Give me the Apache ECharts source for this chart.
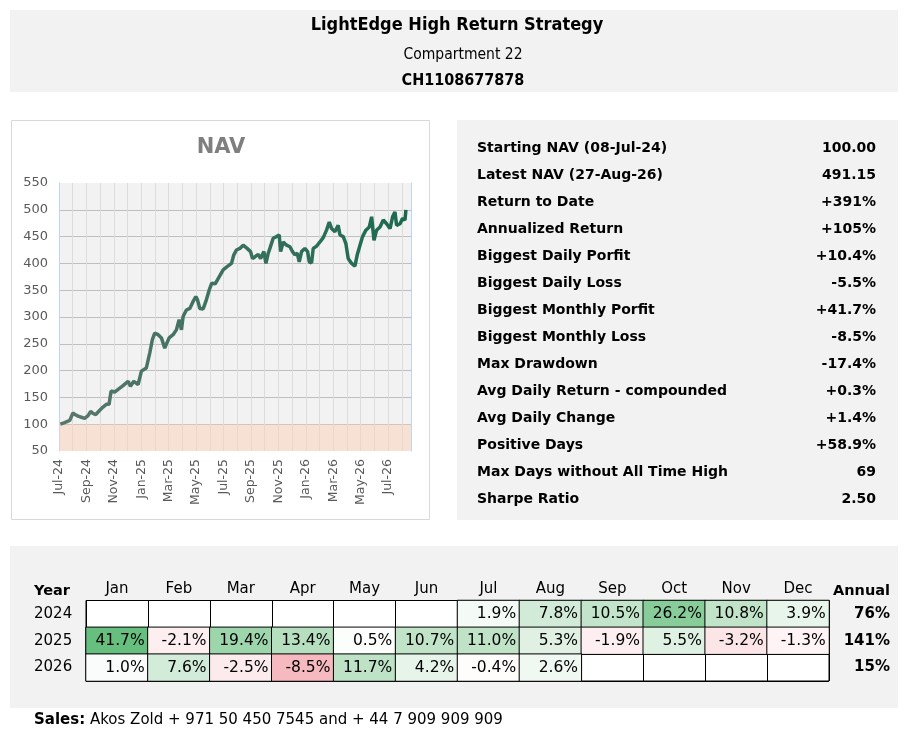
<!DOCTYPE html>
<html>
<head>
<meta charset="utf-8">
<title>LightEdge High Return Strategy</title>
<script src="https://cdn.jsdelivr.net/npm/echarts@6/dist/echarts.min.js"></script>
<style>
  html, body { margin: 0; padding: 0; background: #fff; }
  #main { width: 912px; height: 749px; }
</style>
</head>
<body>
<div id="main"></div>
<script>
// NAV curve (x = months since Jul-24)
var navMonthPos = [
  0.1, 0.41, 0.78, 1.02, 1.17, 1.39, 1.63, 1.87, 2.12, 2.31,
  2.48, 2.68, 2.97, 3.21, 3.45, 3.65, 3.80, 4.06, 4.31, 4.67,
  5.04, 5.21, 5.45, 5.77, 6.01, 6.37, 6.62, 6.81, 6.98, 7.23,
  7.47, 7.71, 7.83, 8.03, 8.32, 8.56, 8.76, 8.93, 9.05, 9.29,
  9.54, 9.78, 9.98, 10.10, 10.27, 10.51, 10.71, 10.95, 11.14, 11.39,
  11.68, 11.97, 12.26, 12.58, 12.75, 12.94, 13.19, 13.43, 13.72, 13.97,
  14.11, 14.28, 14.53, 14.70, 14.94, 15.09, 15.26, 15.38, 15.62, 15.86,
  16.06, 16.16, 16.35, 16.59, 16.84, 17.03, 17.20, 17.37, 17.52, 17.69,
  17.93, 18.13, 18.25, 18.42, 18.54, 18.78, 19.03, 19.27, 19.51, 19.71,
  19.88, 20.12, 20.36, 20.49, 20.73, 20.92, 21.09, 21.34, 21.58, 21.75,
  21.95, 22.14, 22.38, 22.63, 22.80, 22.97, 23.16, 23.41, 23.65, 23.89,
  24.14, 24.33, 24.50, 24.62, 24.87, 25.06, 25.23, 25.30
];
var navValues = [
  100, 103, 107, 121, 118, 115, 113, 111, 116, 124,
  120, 118, 126, 132, 137, 137, 162, 160, 165, 172,
  180, 171, 180, 174, 199, 205, 233, 258, 270, 267,
  261, 242, 240, 261, 267, 276, 295, 276, 301, 313,
  316, 329, 338, 332, 316, 315, 329, 350, 363, 362,
  375, 388, 394, 400, 416, 425, 428, 434, 428, 422,
  409, 412, 417, 409, 422, 400, 419, 428, 447, 450,
  453, 422, 440, 434, 431, 422, 416, 419, 403, 422,
  428, 422, 403, 401, 428, 432, 440, 448, 462, 477,
  465, 459, 471, 453, 450, 437, 409, 400, 395, 416,
  434, 450, 462, 468, 487, 443, 462, 468, 481, 474,
  465, 487, 496, 471, 474, 484, 481, 500
];
var navMonthLabels = [
  'Jul-24', 'Aug-24', 'Sep-24', 'Oct-24', 'Nov-24', 'Dec-24',
  'Jan-25', 'Feb-25', 'Mar-25', 'Apr-25', 'May-25', 'Jun-25',
  'Jul-25', 'Aug-25', 'Sep-25', 'Oct-25', 'Nov-25', 'Dec-25',
  'Jan-26', 'Feb-26', 'Mar-26', 'Apr-26', 'May-26', 'Jun-26',
  'Jul-26', 'Aug-26'
];

// key figures panel
var statLabels = [
  'Starting NAV (08-Jul-24)', 'Latest NAV (27-Aug-26)', 'Return to Date',
  'Annualized Return', 'Biggest Daily Porfit', 'Biggest Daily Loss',
  'Biggest Monthly Porfit', 'Biggest Monthly Loss', 'Max Drawdown',
  'Avg Daily Return - compounded', 'Avg Daily Change', 'Positive Days',
  'Max Days without All Time High', 'Sharpe Ratio'
];
var statValues = [
  '100.00', '491.15', '+391%', '+105%', '+10.4%', '-5.5%', '+41.7%',
  '-8.5%', '-17.4%', '+0.3%', '+1.4%', '+58.9%', '69', '2.50'
];

// monthly returns table
var months = ['Jan', 'Feb', 'Mar', 'Apr', 'May', 'Jun', 'Jul', 'Aug', 'Sep', 'Oct', 'Nov', 'Dec'];
var years = ['2024', '2025', '2026'];
var returns2024 = [null, null, null, null, null, null, 1.9, 7.8, 10.5, 26.2, 10.8, 3.9];
var returns2025 = [41.7, -2.1, 19.4, 13.4, 0.5, 10.7, 11.0, 5.3, -1.9, 5.5, -3.2, -1.3];
var returns2026 = [1.0, 7.6, -2.5, -8.5, 11.7, 4.2, -0.4, 2.6, null, null, null, null];
var annualReturns = [76, 141, 15];

var navData = navMonthPos.map(function (m, i) { return [m, navValues[i]]; });

var heatData = [];
[returns2024, returns2025, returns2026].forEach(function (row, y) {
  row.forEach(function (v, m) {
    if (v !== null) heatData.push([m, y, v]);
  });
});

var wide = '"DejaVu Sans", Lato, sans-serif';
var narrow = '"DejaVu Sans Condensed", "Liberation Sans Narrow", sans-serif';

var elements = [
  // header band
  { type: 'rect', z: -10, shape: { x: 10, y: 10, width: 888, height: 82 }, style: { fill: '#f2f2f2' } },
  { type: 'text', x: 457, y: 25, style: { text: 'LightEdge High Return Strategy', font: 'bold 18px ' + narrow, fill: '#000', align: 'center', verticalAlign: 'middle' } },
  { type: 'text', x: 463, y: 55, style: { text: 'Compartment 22', font: '15.5px ' + narrow, fill: '#000', align: 'center', verticalAlign: 'middle' } },
  { type: 'text', x: 463, y: 81, style: { text: 'CH1108677878', font: 'bold 16px ' + narrow, fill: '#000', align: 'center', verticalAlign: 'middle' } },
  // chart frame
  { type: 'rect', z: -10, shape: { x: 11.5, y: 120.5, width: 418, height: 399 }, style: { fill: '#fff', stroke: '#d9d9d9', lineWidth: 1 } },
  { type: 'text', x: 221, y: 148, style: { text: 'NAV', font: 'bold 21px ' + wide, fill: '#7f7f7f', align: 'center', verticalAlign: 'middle' } },
  // stats panel
  { type: 'rect', z: -10, shape: { x: 457, y: 120, width: 441, height: 400 }, style: { fill: '#f2f2f2' } },
  // table panel
  { type: 'rect', z: -10, shape: { x: 10, y: 546, width: 888, height: 162 }, style: { fill: '#f2f2f2' } },
  { type: 'text', x: 34, y: 591, style: { text: 'Year', font: 'bold 14.5px ' + wide, fill: '#000', verticalAlign: 'middle' } },
  { type: 'text', x: 890, y: 591, style: { text: 'Annual', font: 'bold 14.5px ' + wide, fill: '#000', align: 'right', verticalAlign: 'middle' } },
  // sales line
  {
    type: 'text', x: 34, y: 720,
    style: {
      text: '{b|Sales:} Akos Zold + 971 50 450 7545 and + 44 7 909 909 909',
      font: '15px ' + wide, fill: '#000', verticalAlign: 'middle',
      rich: { b: { fontWeight: 'bold', fontSize: 15, fontFamily: wide } }
    }
  }
];

statLabels.forEach(function (lab, i) {
  var y = 148 + i * 27;
  elements.push({ type: 'text', x: 477, y: y, style: { text: lab, font: 'bold 14px ' + wide, fill: '#000', verticalAlign: 'middle' } });
  elements.push({ type: 'text', x: 876, y: y, style: { text: statValues[i], font: 'bold 14px ' + wide, fill: '#000', align: 'right', verticalAlign: 'middle' } });
});

var option = {
  animation: false,
  backgroundColor: '#fff',
  textStyle: { fontFamily: wide },
  graphic: { elements: elements },
  grid: [
    { left: 59, top: 183, width: 352, height: 268, show: true, backgroundColor: '#f2f2f2', borderWidth: 0 },
    { left: 86, top: 600.5, width: 743, height: 80.5, show: true, backgroundColor: '#fff', borderColor: '#000', borderWidth: 1 }
  ],
  xAxis: [
    {
      type: 'value', gridIndex: 0, min: 0, max: 25.67, interval: 1,
      axisLine: { show: false }, axisTick: { show: false },
      splitLine: { show: true, lineStyle: { color: '#dcdcdc', width: 1 } },
      axisLabel: {
        rotate: 90, fontSize: 12.5, color: '#595959', margin: 8,
        formatter: function (v) {
          if (v % 2 !== 0) return '';
          return navMonthLabels[v] || '';
        }
      }
    },
    {
      type: 'category', gridIndex: 1, data: months, position: 'top',
      axisLine: { show: false }, axisTick: { show: false },
      splitLine: { show: true, lineStyle: { color: '#000', width: 1 } },
      axisLabel: { fontSize: 15, color: '#000', margin: 4 }
    }
  ],
  yAxis: [
    {
      type: 'value', gridIndex: 0, min: 50, max: 550, interval: 50,
      axisLine: { show: true, lineStyle: { color: '#bdd7ee', width: 1 } },
      axisTick: { show: false },
      splitLine: {
        show: true,
        lineStyle: {
          color: ['rgba(0,0,0,0)', '#bfbfbf', '#bfbfbf', '#bfbfbf', '#bfbfbf', '#bfbfbf',
                  '#bfbfbf', '#bfbfbf', '#bfbfbf', '#bfbfbf', 'rgba(0,0,0,0)'],
          width: 1
        }
      },
      axisLabel: { fontSize: 13, color: '#595959', margin: 11 }
    },
    {
      type: 'value', gridIndex: 0, min: 50, max: 550, position: 'right',
      axisLine: { show: true, lineStyle: { color: '#bdd7ee', width: 1 } },
      axisTick: { show: false }, axisLabel: { show: false }, splitLine: { show: false }
    },
    {
      type: 'category', gridIndex: 1, data: years, inverse: true,
      axisLine: { show: false }, axisTick: { show: false },
      splitLine: { show: true, lineStyle: { color: '#000', width: 1 } },
      axisLabel: { fontSize: 15, color: '#000', align: 'left', margin: 52 }
    },
    {
      type: 'category', gridIndex: 1, inverse: true, position: 'right',
      data: annualReturns.map(function (v) { return v + '%'; }),
      axisLine: { show: false }, axisTick: { show: false }, splitLine: { show: false },
      axisLabel: { fontSize: 15, fontWeight: 'bold', color: '#000', align: 'right', margin: 61 }
    }
  ],
  visualMap: {
    show: false, seriesIndex: 1, dimension: 2, min: -10.5, max: 42,
    inRange: { color: ['#f3a9b0', '#ffffff', '#c2e4ca', '#98d3a7', '#76c58a', '#66bf7e'] }
  },
  series: [
    {
      type: 'line', xAxisIndex: 0, yAxisIndex: 0,
      data: navData, showSymbol: false, symbol: 'none',
      lineStyle: {
        width: 3.5,
        color: new echarts.graphic.LinearGradient(0, 0, 1, 0, [
          { offset: 0, color: '#5a786d' },
          { offset: 1, color: '#1b6a4f' }
        ])
      },
      markArea: {
        silent: true,
        itemStyle: { color: 'rgba(251,207,181,0.5)' },
        data: [[{ yAxis: 50 }, { yAxis: 100 }]]
      }
    },
    {
      type: 'heatmap', xAxisIndex: 1, yAxisIndex: 2,
      data: heatData,
      itemStyle: { borderColor: '#000', borderWidth: 1 },
      label: {
        show: true, position: 'insideRight', distance: 4,
        fontSize: 15.5, color: '#000',
        formatter: function (p) { return p.value[2].toFixed(1) + '%'; }
      }
    }
  ]
};

echarts.init(document.getElementById('main')).setOption(option);
</script>
</body>
</html>
